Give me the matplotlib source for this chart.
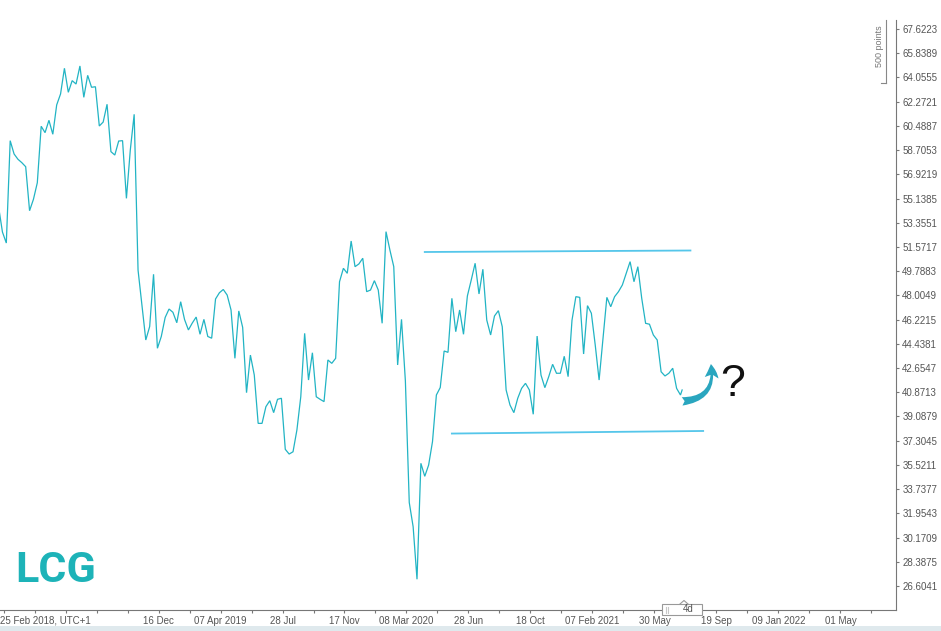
import matplotlib
matplotlib.use('Agg')
import matplotlib.pyplot as plt
import matplotlib.dates as mdates
from matplotlib.patches import FancyArrowPatch, Rectangle
from matplotlib.lines import Line2D
import pandas as pd

plt.rcParams['font.family'] = ['Liberation Sans', 'DejaVu Sans']

# ---------------- data ----------------
START_DATE = '2018-03-02'          # first weekly close
WEEKLY_VALUES = [
    54.54, 52.67, 51.86, 59.40, 58.42, 58.03, 57.78, 57.48, 54.24, 55.08,
    56.30, 60.46, 59.99, 60.90, 59.87, 62.03, 62.84, 64.73, 62.96, 63.82,
    63.57, 64.90, 62.59, 64.21, 63.33, 63.37, 60.48, 60.77, 62.08, 58.59,
    58.34, 59.37, 59.40, 55.15, 58.71, 61.34, 49.87, 47.30, 44.72, 45.71,
    49.56, 44.11, 44.98, 46.38, 47.00, 46.76, 45.99, 47.54, 46.23, 45.46,
    45.97, 46.41, 45.14, 46.24, 44.98, 44.85, 47.74, 48.20, 48.44, 48.03,
    46.93, 43.37, 46.86, 45.65, 40.84, 43.61, 42.14, 38.58, 38.58, 39.81,
    40.25, 39.37, 40.35, 40.43, 36.67, 36.32, 36.49, 38.09, 40.54, 45.21,
    41.77, 43.78, 40.54, 40.35, 40.18, 43.25, 43.00, 43.37, 49.01, 50.00,
    49.63, 52.01, 50.12, 50.32, 50.74, 48.28, 48.40, 49.09, 48.40, 45.95,
    52.70, 51.35, 50.12, 42.88, 46.24, 41.70, 32.75, 30.97, 27.10, 35.64,
    34.68, 35.51, 37.24, 40.67, 41.22, 43.91, 43.81, 47.79, 45.33, 46.93,
    45.14, 47.96, 49.14, 50.37, 48.11, 49.93, 46.19, 45.09, 46.49, 46.88,
    45.70, 41.04, 39.93, 39.37, 40.43, 41.16, 41.53, 41.04, 39.25, 45.01,
    42.14, 41.21, 42.02, 42.93, 42.27, 42.27, 43.52, 42.02, 46.17, 47.91,
    47.86, 43.69, 47.25, 46.69, 44.35, 41.77, 44.84, 47.86, 47.17, 47.91,
    48.28, 48.77, 49.63, 50.49, 49.01, 50.12, 47.79, 45.95, 45.88, 45.09,
    44.72, 42.38, 42.07, 42.27, 42.64, 41.16, 40.67,
]
LAST_DATE = '2021-07-19'           # latest (partial week) quote
LAST_VALUE = 41.04

RESISTANCE_DATES = ['2020-04-10', '2021-08-03']
RESISTANCE_VALUES = [51.20, 51.31]
SUPPORT_DATES = ['2020-05-29', '2021-08-26']
SUPPORT_VALUES = [37.83, 38.02]

ARROW_FROM = ('2021-07-19', 40.20)
ARROW_TO = ('2021-09-09', 42.95)
QUESTION_AT = ('2021-10-19', 41.45)

Y_TICK_START = 26.6041
Y_TICK_STEP = 1.7834
N_Y_TICKS = 24

FIRST_X_LABEL = '25 Feb 2018, UTC+1'
X_LABEL_DATES = ['2018-12-16', '2019-04-07', '2019-07-28', '2019-11-17',
                 '2020-03-08', '2020-06-28', '2020-10-18', '2021-02-07',
                 '2021-05-30', '2021-09-19', '2022-01-09', '2022-05-01']
X_LABELS = ['16 Dec', '07 Apr 2019', '28 Jul', '17 Nov', '08 Mar 2020',
            '28 Jun', '18 Oct', '07 Feb 2021', '30 May', '19 Sep',
            '09 Jan 2022', '01 May']

# ---------------- figure ----------------
W, H = 941, 631
fig = plt.figure(figsize=(W / 100, H / 100), dpi=100)
fig.patch.set_facecolor('white')

# light strip at the bottom (behind everything else)
fig.add_artist(Rectangle((0, 0), 1, 5 / H, transform=fig.transFigure,
                         facecolor='#dfe9ed', edgecolor='none', zorder=-5))

ax = fig.add_axes([0, 21 / H, 896 / W, 610 / H])
ax.set_facecolor('none')

dates = list(pd.date_range(START_DATE, periods=len(WEEKLY_VALUES), freq='7D'))
dates.append(pd.Timestamp(LAST_DATE))
values = WEEKLY_VALUES + [LAST_VALUE]

LINE_COLOR = '#22b4c4'
ax.plot(dates, values, color=LINE_COLOR, lw=0.9, solid_joinstyle='miter')

# support / resistance drawings
LEVEL_COLOR = '#55c6ea'
ax.plot(pd.to_datetime(RESISTANCE_DATES), RESISTANCE_VALUES, color=LEVEL_COLOR, lw=1.3)
ax.plot(pd.to_datetime(SUPPORT_DATES), SUPPORT_VALUES, color=LEVEL_COLOR, lw=1.3)

# curved arrow + question mark
a0 = (mdates.date2num(pd.Timestamp(ARROW_FROM[0])), ARROW_FROM[1])
a1 = (mdates.date2num(pd.Timestamp(ARROW_TO[0])), ARROW_TO[1])
arrow = FancyArrowPatch(a0, a1, connectionstyle='arc3,rad=0.55',
                        arrowstyle='fancy,head_length=0.9,head_width=0.9,tail_width=0.55',
                        mutation_scale=11, color='#2aa6bf', lw=0,
                        shrinkA=0, shrinkB=0, zorder=5)
ax.add_patch(arrow)
ax.text(pd.Timestamp(QUESTION_AT[0]), QUESTION_AT[1], '?', fontsize=32,
        ha='center', va='center', color='#111111')

# axes limits (time axis calibrated to the screenshot)
origin = pd.Timestamp('2018-02-25')
x_left = origin + pd.Timedelta(days=7.59)
x_right = origin + pd.Timedelta(days=1626.4)
ax.set_xlim(x_left, x_right)
y_low, y_high = 24.836, 69.758
ax.set_ylim(y_low, y_high)

# y axis on the right
ax.yaxis.tick_right()
yt = [Y_TICK_START + i * Y_TICK_STEP for i in range(N_Y_TICKS)]
ax.set_yticks(yt)
ax.set_yticklabels([f'{v:.4f}' for v in yt])
ax.tick_params(axis='y', direction='out', length=2.5, width=0.8, colors='#777777',
               labelcolor='#555555', labelsize=7, pad=2)

# x axis
major = [x_left] + list(pd.to_datetime(X_LABEL_DATES))
ax.set_xticks(major)
ax.set_xticklabels([FIRST_X_LABEL] + X_LABELS)
minor = [d for d in pd.date_range('2018-03-11', periods=32, freq='56D') if x_left <= d <= x_right]
ax.set_xticks(minor, minor=True)
ax.tick_params(axis='x', which='both', direction='out', length=2.5, width=0.8,
               colors='#777777', labelcolor='#555555', labelsize=7, pad=1.5)
ax.get_xticklabels()[0].set_ha('left')
ax.xaxis.get_major_ticks()[0].tick1line.set_visible(False)

for s in ('top', 'left'):
    ax.spines[s].set_visible(False)
for s in ('right', 'bottom'):
    ax.spines[s].set_color('#777777')
    ax.spines[s].set_linewidth(0.8)
ax.spines['right'].set_bounds(y_low, 68.285)
ax.grid(False)

# logo
fig.text(15 / W, (H - 582) / H, 'LCG', fontsize=31, fontweight='bold',
         family=['Roboto', 'DejaVu Sans'], color='#1db3b8', ha='left', va='baseline')

# "500 points" scale bracket
fig.text(879 / W, (H - 46.5) / H, '500 points', rotation=90, ha='center', va='center',
         fontsize=6.5, color='#777777')
fig.add_artist(Line2D([886 / W, 886 / W], [(H - 20) / H, (H - 83) / H],
                      transform=fig.transFigure, color='#888888', lw=0.8))
fig.add_artist(Line2D([881 / W, 886 / W], [(H - 83) / H, (H - 83) / H],
                      transform=fig.transFigure, color='#888888', lw=0.8))

# timeframe box on the time axis
fig.add_artist(Rectangle((662 / W, 16 / H), 40 / W, 11 / H, transform=fig.transFigure,
                         facecolor='white', edgecolor='#999999', lw=0.8, zorder=3))
fig.add_artist(Line2D([680 / W, 684 / W, 688 / W], [27 / H, 30.5 / H, 27 / H],
                      transform=fig.transFigure, color='#999999', lw=0.8, zorder=4))
for gx in (666, 668):
    fig.add_artist(Line2D([gx / W, gx / W], [18.5 / H, 24.5 / H], transform=fig.transFigure,
                          color='#c8c8c8', lw=0.8, zorder=4))
fig.text(688 / W, 21.5 / H, '4d', ha='center', va='center', fontsize=7,
         color='#555555', zorder=5)

fig.savefig('out.png', dpi=100)
